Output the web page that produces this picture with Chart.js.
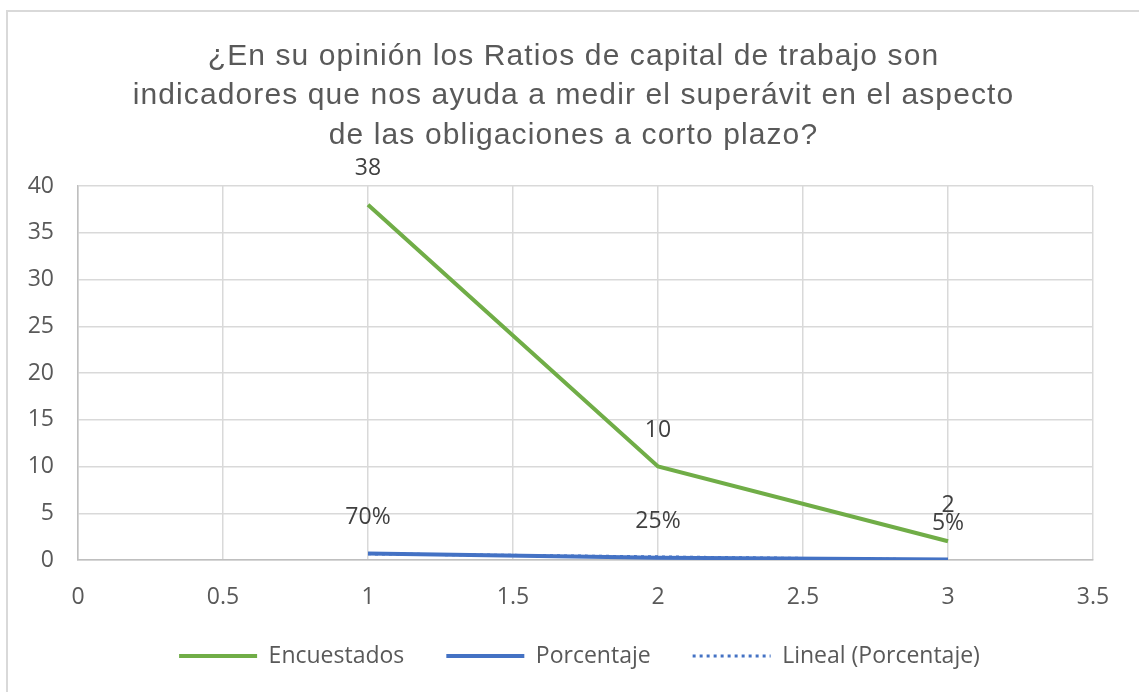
<!DOCTYPE html>
<html>
<head>
<meta charset="utf-8">
<script src="https://cdn.jsdelivr.net/npm/chart.js@4/dist/chart.umd.min.js"></script>
<style>
  html, body { margin: 0; padding: 0; background: #fff; overflow: hidden; }
  #frame { position: absolute; left: 6px; top: 10px; width: 1200px; height: 800px;
           border-top: 2px solid #d9d9d9; border-left: 2px solid #d9d9d9; }
  #wrap { position: absolute; left: 0; top: 0; width: 1139px; height: 692px; }
</style>
</head>
<body>
<div id="frame"></div>
<div id="wrap"><canvas id="myChart"></canvas></div>
<script>
// values
let titleLines = [
    "¿En su opinión los Ratios de capital de trabajo son",
    "indicadores que nos ayuda a medir el superávit en el aspecto",
    "de las obligaciones a corto plazo?"
];
let xValues = [1, 2, 3];
let encuestados = [38, 10, 2];
let porcentaje = [0.70, 0.25, 0.05];
let porcentajeLabels = ["70%", "25%", "5%"];
let trendX = [1, 3];
let trendY = [0.66, 0.01];
let seriesNames = ["Encuestados", "Porcentaje", "Lineal (Porcentaje)"];

const textColor = "#595959";
const gridColor = "#d9d9d9";
const tickFont = { family: "'Open Sans'", size: 23 };

// title, drawn by hand so the letters can be spaced a bit wider
const chartTitle = {
    id: "chartTitle",
    afterDraw(chart) {
        const ctx = chart.ctx;
        ctx.save();
        ctx.font = "30px 'Liberation Sans', Arial";
        ctx.fillStyle = textColor;
        ctx.textAlign = "center";
        ctx.textBaseline = "alphabetic";
        ctx.letterSpacing = "1.1px";
        titleLines.forEach(function (line, i) {
            ctx.fillText(line, chart.width / 2 + 4, 64.5 + i * 39.5);
        });
        ctx.restore();
    }
};

// value labels above the points
const pointLabels = {
    id: "pointLabels",
    afterDatasetsDraw(chart) {
        const ctx = chart.ctx;
        ctx.save();
        ctx.font = "23px 'Open Sans'";
        ctx.fillStyle = "#404040";
        ctx.textAlign = "center";
        ctx.textBaseline = "middle";
        [0, 1].forEach(function (di) {
            const meta = chart.getDatasetMeta(di);
            meta.data.forEach(function (pt, i) {
                let txt = di === 0 ? String(encuestados[i]) : porcentajeLabels[i];
                ctx.fillText(txt, pt.x, pt.y - 36);
            });
        });
        ctx.restore();
    }
};

// nudge the legend row to the right like the original,
// and give the x tick labels room so they are not clipped
const layoutTweaks = {
    id: "layoutTweaks",
    afterLayout(chart) {
        chart.legend.left += 33;
        chart.legend.right += 33;
        chart.scales.x.bottom += 40;
    }
};

let ctx = document.getElementById("myChart").getContext("2d");

new Chart(ctx, {
    type: "line",
    data: {
        datasets: [{
            label: seriesNames[0],
            data: xValues.map((x, i) => ({ x: x, y: encuestados[i] })),
            borderColor: "#70ad47",
            backgroundColor: "#70ad47",
            borderWidth: 4,
            pointRadius: 0,
            tension: 0
        }, {
            label: seriesNames[1],
            data: xValues.map((x, i) => ({ x: x, y: porcentaje[i] })),
            borderColor: "#4472c4",
            backgroundColor: "#4472c4",
            borderWidth: 4,
            pointRadius: 0,
            tension: 0
        }, {
            label: seriesNames[2],
            data: trendX.map((x, i) => ({ x: x, y: trendY[i] })),
            borderColor: "#4472c4",
            backgroundColor: "#4472c4",
            borderWidth: 3,
            borderDash: [3, 4],
            pointRadius: 0
        }]
    },
    options: {
        responsive: true,
        maintainAspectRatio: false,
        animation: false,
        layout: { padding: { left: 0, right: 46, top: 186, bottom: 14.5 } },
        plugins: {
            title: { display: false },
            legend: {
                position: "bottom",
                labels: {
                    color: textColor,
                    font: tickFont,
                    usePointStyle: true,
                    pointStyle: "line",
                    pointStyleWidth: 78,
                    padding: 42,
                    // legend lines take width and dash from the dataset line
                    generateLabels(chart) {
                        let items = Chart.defaults.plugins.legend.labels.generateLabels(chart);
                        items.forEach(function (item) {
                            let ds = chart.data.datasets[item.datasetIndex];
                            item.lineWidth = ds.borderWidth;
                            item.lineDash = ds.borderDash || [];
                            item.strokeStyle = ds.borderColor;
                            item.fontColor = textColor;
                        });
                        return items;
                    }
                }
            },
            tooltip: { enabled: false }
        },
        scales: {
            x: {
                type: "linear",
                min: 0,
                max: 3.5,
                ticks: { stepSize: 0.5, color: textColor, font: tickFont, padding: 24,
                         callback: (v) => String(v) },
                grid: { color: gridColor, lineWidth: 1.5, drawTicks: false },
                border: { color: "#bfbfbf", width: 1.5 },
                afterFit(scale) { scale.height = 42.5; }
            },
            y: {
                min: 0,
                max: 40,
                ticks: { stepSize: 5, color: textColor, font: tickFont, padding: 24 },
                grid: { color: gridColor, lineWidth: 1.5, drawTicks: false },
                border: { color: "#bfbfbf", width: 1.5 },
                afterFit(scale) { scale.width = 78; }
            }
        }
    },
    plugins: [chartTitle, pointLabels, layoutTweaks]
});
</script>
</body>
</html>
